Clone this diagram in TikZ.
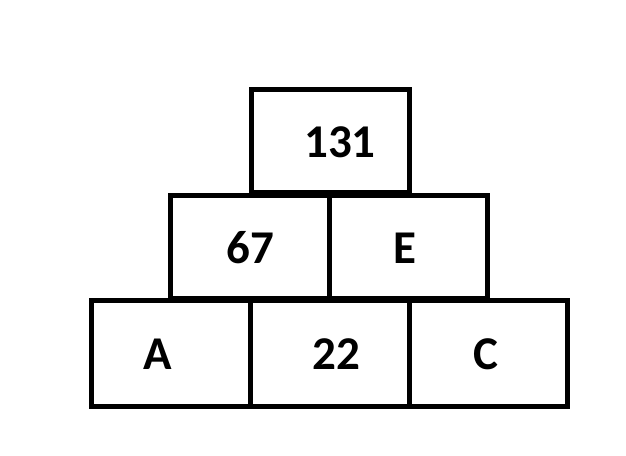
\documentclass[tikz,border=0pt]{standalone}
\usepackage{fontspec}
\setmainfont{Carlito}
\begin{document}
\begin{tikzpicture}[x=1pt,y=-1pt,
  cell/.style={draw=black,line width=5pt},
  lab/.style={font=\fontsize{47}{52}\selectfont\bfseries,anchor=center}]
\useasboundingbox (0,0) rectangle (626,455);
\draw[cell] (251,89) rectangle (409,192);
\draw[cell] (170,195) rectangle (329,298);
\draw[cell] (329,195) rectangle (487,298);
\draw[cell] (91,300) rectangle (250,406);
\draw[cell] (250,300) rectangle (409,406);
\draw[cell] (409,300) rectangle (567,406);
\node[lab] (t) at (340,142) {131};
\node[lab] (m1) at (250,248) {67};
\node[lab] (m2) at (405,248) {E};
\node[lab] (b1) at (158,354) {A};
\node[lab] (b2) at (336,354) {22};
\node[lab] (b3) at (486,354) {C};
\end{tikzpicture}
\end{document}
